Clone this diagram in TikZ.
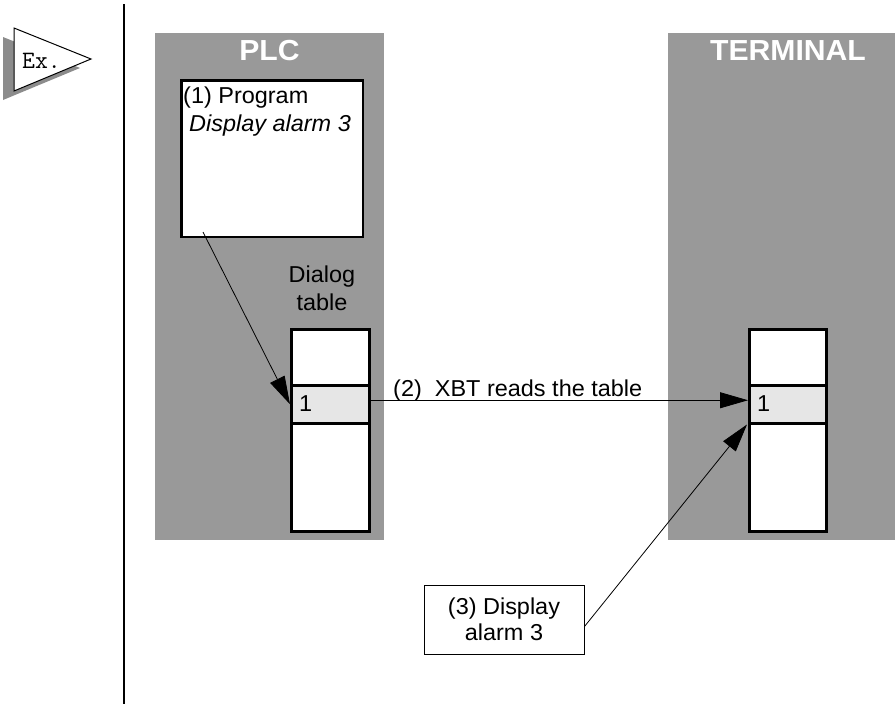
\documentclass[tikz,border=0pt]{standalone}
\usepackage{fontspec}
\setmainfont{Liberation Sans}
\newfontfamily\lab[FakeStretch=1.02]{Liberation Sans}
\newfontfamily\ttl[FakeStretch=1.04]{Liberation Sans}
\usetikzlibrary{arrows.meta}
\definecolor{panel}{RGB}{153,153,153}
\definecolor{shadowgray}{RGB}{140,140,140}
\definecolor{cellgray}{RGB}{230,230,230}
\begin{document}
\begin{tikzpicture}[x=1pt,y=-1pt,
  panelbox/.style={fill=panel,draw=none,inner sep=0pt,anchor=north west},
  thickbox/.style={draw=black,line width=2.5pt,fill=white,inner sep=0pt,anchor=north west},
  cellbox/.style={draw=black,line width=2.5pt,fill=cellgray,inner sep=0pt,anchor=north west,minimum width=78pt,minimum height=38pt},
  txt/.style={font=\lab\fontsize{23}{26}\selectfont,inner sep=0pt},
  titletxt/.style={font=\ttl\bfseries\fontsize{29}{30}\selectfont,text=white,inner sep=0pt,anchor=base},
  conn/.style={line width=0.8pt,-{Triangle[length=28pt,width=16pt]}}
]
\useasboundingbox (0,0) rectangle (895,704);

% Ex. icon
\fill[shadowgray] (3,37) -- (80,68) -- (3,100) -- cycle;
\draw[fill=white,line width=1pt] (14,28) -- (91,59) -- (14,91) -- cycle;
\node[font=\ttfamily\fontsize{25}{25}\selectfont,inner sep=0pt,anchor=base west] (ex) at (22,68) {Ex.};

% vertical rule
\draw[line width=2pt] (124,4) -- (124,704);

% panels
\node[panelbox,minimum width=229pt,minimum height=507pt] (plc) at (155,33) {};
\node[panelbox,minimum width=227pt,minimum height=507pt] (term) at (668,33) {};
\node[titletxt] (plct) at (269.5,60) {PLC};
\node[titletxt] (termt) at (788,60) {TERMINAL};

% program box
\node[thickbox,minimum width=181.4pt,minimum height=156.4pt] (prog) at (180.3,79.3) {};
\node[txt,anchor=base west] (progt1) at (183,103) {(1) Program};
\node[txt,anchor=base west] (progt2) at (189,131) {\itshape Display alarm 3};

% dialog table label
\node[txt,anchor=base] (dlg1) at (322,282) {Dialog};
\node[txt,anchor=base] (dlg2) at (322,310) {table};

% PLC table
\node[thickbox,minimum width=78pt,minimum height=202pt] (tbl) at (290,328) {};
\node[cellbox] (cell) at (290,384) {};
\node[txt,anchor=base west] (cellt) at (299,411) {1};

% terminal table
\node[thickbox,minimum width=77pt,minimum height=202pt] (ttbl) at (748,328) {};
\node[cellbox,minimum width=77pt] (tcell) at (748,384) {};
\node[txt,anchor=base west] (tcellt) at (757,411) {1};

% step 2 label
\node[txt,anchor=base west] (step2) at (393,396) {(2)\ \ XBT reads the table};

% step 3 box
\node[draw=black,line width=1pt,fill=white,minimum width=160pt,minimum height=69pt,inner sep=0pt,align=center,font=\lab\fontsize{23}{26}\selectfont] (box3) at (504,619.5) {(3) Display\\alarm 3};

% connectors
\coordinate (a1s) at (203,232);
\draw[conn] (a1s) -- (cell.west);
\draw[conn] ([yshift=4pt]cell.east) -- ([yshift=4pt]tcell.west);
\draw[conn] ([yshift=-7pt]box3.east) -- ([xshift=-1pt]tcell.south west);
\end{tikzpicture}
\end{document}
